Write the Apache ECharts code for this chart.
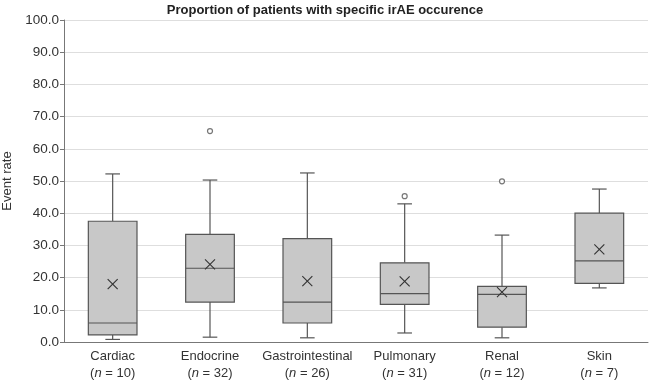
<!DOCTYPE html>
<html><head><meta charset="utf-8">
<script src="https://cdn.jsdelivr.net/npm/echarts@6/dist/echarts.min.js"></script>
<style>html,body{margin:0;padding:0;background:#fff}#c{width:650px;height:380px}</style>
</head><body><div id="c"></div>
<script>
const categories = ['Cardiac','Endocrine','Gastrointestinal','Pulmonary','Renal','Skin'];
const nCounts = [10, 32, 26, 31, 12, 7];
// [min, Q1, median, Q3, max]
const boxValues = [
  [0.8, 2.2, 5.9, 37.5, 52.2],
  [1.5, 12.4, 22.9, 33.4, 50.3],
  [1.3, 5.9, 12.4, 32.1, 52.5],
  [2.8, 11.7, 15.0, 24.6, 42.9],
  [1.3, 4.6, 14.8, 17.3, 33.2],
  [16.8, 18.2, 25.2, 40.0, 47.5]
];
const meanValues = [18.0, 24.1, 18.9, 18.8, 15.5, 28.8];
const outliers = [[1, 65.5], [3, 45.3], [4, 49.9]];
const yTicks = [0,10,20,30,40,50,60,70,80,90,100];

const boxData = boxValues.map((b, i) => [i].concat(b));
const meanData = meanValues.map((m, i) => [i, m]);

const chart = echarts.init(document.getElementById('c'), null, {renderer: 'canvas'});
const stroke = '#555555';
chart.setOption({
  animation: false,
  textStyle: {fontFamily: 'Liberation Sans, Arial, sans-serif'},
  title: {
    text: 'Proportion of patients with specific irAE occurence',
    left: 'center', top: -1,
    textStyle: {fontSize: 13, fontWeight: 'bold', color: '#222'}
  },
  grid: {left: 64, right: 2, top: 20, bottom: 38, containLabel: false, outerBoundsMode: 'none'},
  xAxis: {
    type: 'category', data: categories,
    axisTick: {show: false},
    axisLine: {lineStyle: {color: '#777', width: 1}},
    axisLabel: {
      interval: 0,
      color: '#333', fontSize: 13, lineHeight: 17, margin: 6,
      formatter: function (v, i) {
        return v + '\n{p|(}{i|n}{p| = ' + nCounts[i] + ')}';
      },
      rich: {
        p: {fontSize: 13, color: '#333', lineHeight: 17},
        i: {fontSize: 13, color: '#333', fontStyle: 'italic', lineHeight: 17}
      }
    }
  },
  yAxis: {
    type: 'value', min: 0, max: 100, interval: 10,
    name: 'Event rate', nameLocation: 'middle', nameGap: 41, nameRotate: 90,
    nameTextStyle: {fontSize: 13, color: '#333'},
    axisLine: {show: true, lineStyle: {color: '#777'}},
    axisTick: {show: true, length: 4, lineStyle: {color: '#777'}},
    axisLabel: {color: '#333', fontSize: 13.5, margin: 5,
      formatter: v => yTicks.indexOf(v) >= 0 ? v.toFixed(1) : ''},
    splitLine: {lineStyle: {color: '#dedede', width: 1}}
  },
  series: [
    {
      type: 'custom',
      data: boxData,
      encode: {x: 0, y: [1,2,3,4,5]},
      renderItem: function (params, api) {
        const idx = api.value(0);
        const pMin = api.coord([idx, api.value(1)]);
        const pQ1 = api.coord([idx, api.value(2)]);
        const pMed = api.coord([idx, api.value(3)]);
        const pQ3 = api.coord([idx, api.value(4)]);
        const pMax = api.coord([idx, api.value(5)]);
        const band = api.size([1, 0])[0];
        const half = band * 0.25;
        const cap = band * 0.075;
        const x = pMed[0];
        const ls = {stroke: stroke, lineWidth: 1.2};
        return {
          type: 'group',
          children: [
            {type: 'line', shape: {x1: x, y1: pMax[1], x2: x, y2: pQ3[1]}, style: ls},
            {type: 'line', shape: {x1: x, y1: pQ1[1], x2: x, y2: pMin[1]}, style: ls},
            {type: 'line', shape: {x1: x - cap, y1: pMax[1], x2: x + cap, y2: pMax[1]}, style: ls},
            {type: 'line', shape: {x1: x - cap, y1: pMin[1], x2: x + cap, y2: pMin[1]}, style: ls},
            {type: 'rect', shape: {x: x - half, y: pQ3[1], width: half * 2, height: pQ1[1] - pQ3[1]},
              style: {fill: '#c8c8c8', stroke: stroke, lineWidth: 1.2}},
            {type: 'line', shape: {x1: x - half, y1: pMed[1], x2: x + half, y2: pMed[1]}, style: ls}
          ]
        };
      },
      z: 2
    },
    {
      type: 'custom',
      data: meanData,
      encode: {x: 0, y: 1},
      renderItem: function (params, api) {
        const p = api.coord([api.value(0), api.value(1)]);
        const s = 5;
        const ls = {stroke: '#333', lineWidth: 1.1};
        return {
          type: 'group',
          children: [
            {type: 'line', shape: {x1: p[0] - s, y1: p[1] - s, x2: p[0] + s, y2: p[1] + s}, style: ls},
            {type: 'line', shape: {x1: p[0] - s, y1: p[1] + s, x2: p[0] + s, y2: p[1] - s}, style: ls}
          ]
        };
      },
      z: 3
    },
    {
      type: 'scatter',
      data: outliers,
      symbol: 'circle', symbolSize: 5,
      itemStyle: {color: '#fff', borderColor: stroke, borderWidth: 1.2},
      z: 3
    }
  ]
});
</script></body></html>
